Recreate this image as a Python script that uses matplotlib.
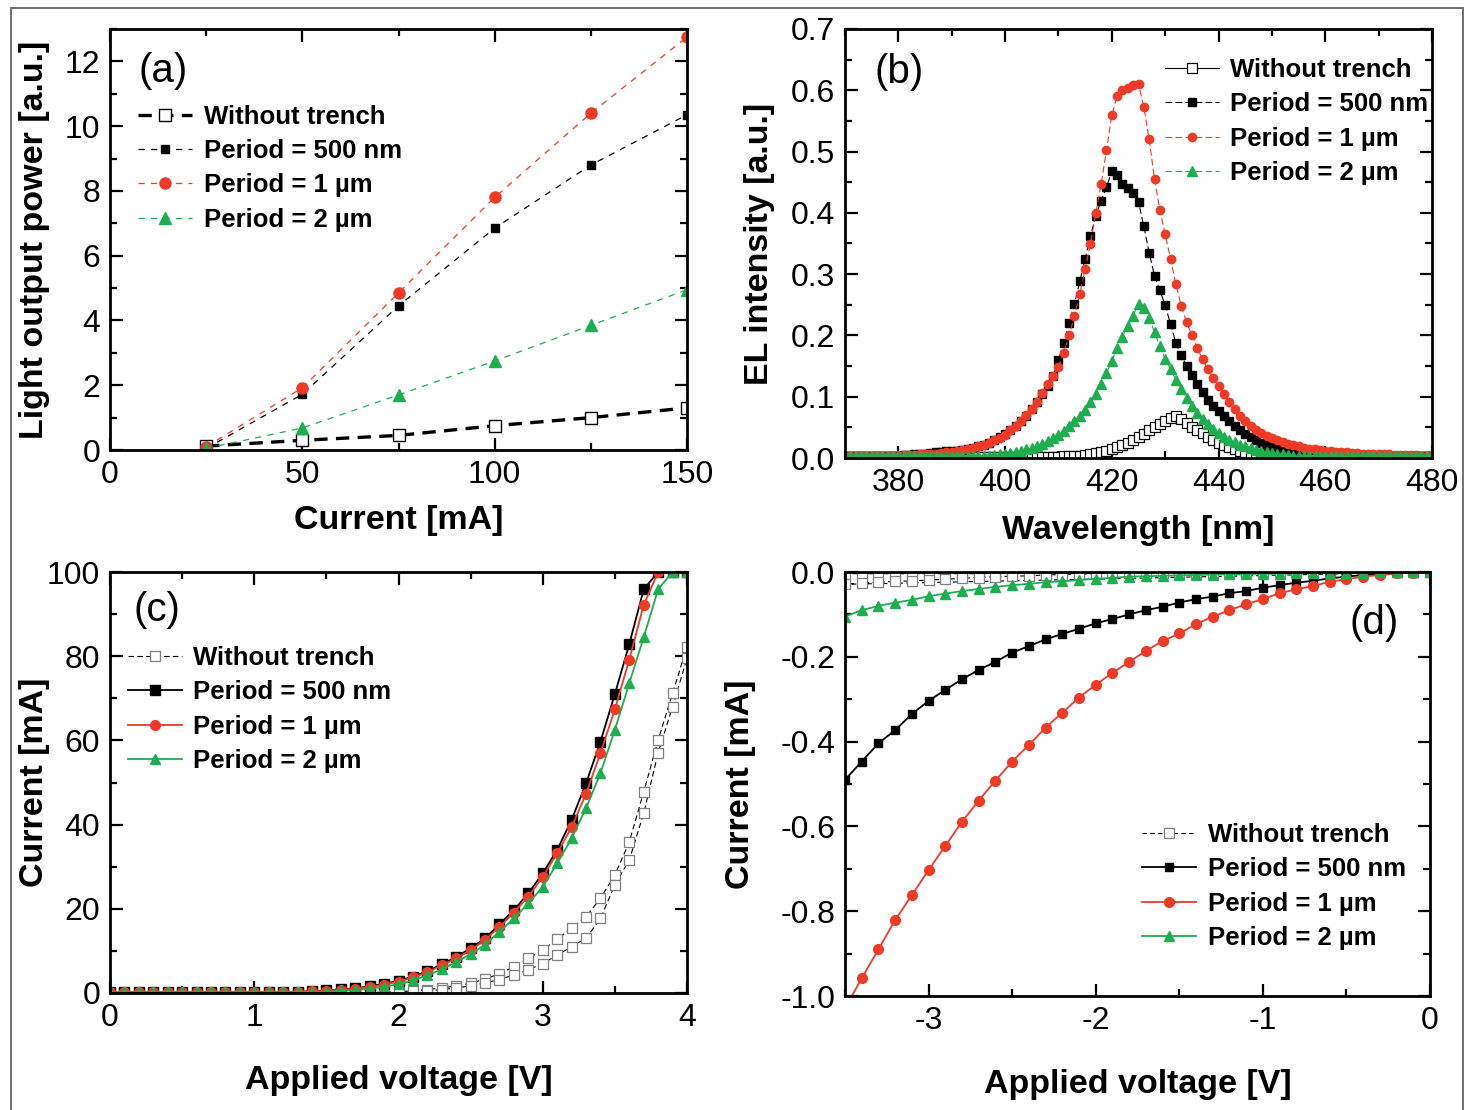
import numpy as np
import matplotlib.pyplot as plt
from matplotlib.patches import Rectangle
from matplotlib.ticker import MultipleLocator

plt.rcParams['font.family'] = ['Liberation Sans Narrow', 'Liberation Sans', 'DejaVu Sans']
plt.rcParams['axes.unicode_minus'] = False

RED = '#ee3a26'
GREEN = '#1fae4f'
GREY = '#7f7f7f'

# ---- (a) light output power vs current
current_a = [25, 50, 75, 100, 125, 150]
pow_wt = [0.12, 0.30, 0.45, 0.75, 1.00, 1.30]
pow_500 = [0.05, 1.72, 4.45, 6.85, 8.80, 10.35]
pow_1um = [0.10, 1.92, 4.85, 7.80, 10.40, 12.75]
pow_2um = [0.05, 0.68, 1.70, 2.75, 3.85, 4.95]

# ---- (b) EL spectra, one point per nm from 370 to 480
wl = np.arange(370, 481)
el_wt = [0.001] * 10 + [0.001] * 10 + [0.001] * 10 + \
    [0.001, 0.001, 0.001, 0.001, 0.001, 0.001, 0.001, 0.002, 0.002, 0.002,
     0.002, 0.003, 0.003, 0.004, 0.004, 0.005, 0.006, 0.008, 0.010, 0.012,
     0.015, 0.018, 0.022, 0.025, 0.029, 0.034, 0.039, 0.045, 0.050, 0.055,
     0.060, 0.066, 0.069, 0.063, 0.057, 0.051, 0.045, 0.040, 0.034, 0.029,
     0.025, 0.021, 0.018, 0.014, 0.011, 0.009, 0.007, 0.006, 0.005, 0.004,
     0.003, 0.003, 0.002, 0.002, 0.001, 0.001, 0.001, 0.001, 0.001, 0.001] + \
    [0.001] * 10 + [0.001] * 11
el_500 = [0.004] * 10 + \
    [0.004, 0.005, 0.005, 0.006, 0.006, 0.007, 0.008, 0.009, 0.010, 0.011,
     0.011, 0.012, 0.013, 0.015, 0.017, 0.019, 0.022, 0.025, 0.029, 0.034,
     0.039, 0.045, 0.052, 0.060, 0.069, 0.080, 0.092, 0.104, 0.117, 0.134,
     0.160, 0.188, 0.220, 0.252, 0.288, 0.325, 0.362, 0.395, 0.420, 0.442,
     0.468, 0.462, 0.447, 0.440, 0.432, 0.418, 0.378, 0.335, 0.297, 0.274,
     0.249, 0.219, 0.188, 0.168, 0.150, 0.136, 0.121, 0.107, 0.095, 0.085,
     0.076, 0.068, 0.060, 0.052, 0.045, 0.039, 0.034, 0.029, 0.025, 0.022,
     0.019, 0.017, 0.015, 0.013, 0.012, 0.011, 0.010, 0.009, 0.008, 0.008,
     0.007, 0.007, 0.006, 0.006, 0.006, 0.005, 0.005, 0.005, 0.005, 0.004] + \
    [0.004] * 11
el_1um = [0.004] * 10 + \
    [0.004, 0.005, 0.005, 0.005, 0.006, 0.006, 0.007, 0.007, 0.008, 0.009,
     0.010, 0.011, 0.013, 0.015, 0.017, 0.019, 0.022, 0.025, 0.029, 0.033,
     0.038, 0.045, 0.052, 0.060, 0.070, 0.080, 0.092, 0.106, 0.121, 0.134,
     0.148, 0.172, 0.200, 0.232, 0.268, 0.308, 0.350, 0.399, 0.447, 0.502,
     0.560, 0.590, 0.600, 0.604, 0.609, 0.611, 0.572, 0.520, 0.455, 0.405,
     0.365, 0.325, 0.284, 0.248, 0.222, 0.200, 0.180, 0.161, 0.145, 0.130,
     0.117, 0.105, 0.092, 0.080, 0.069, 0.060, 0.052, 0.046, 0.041, 0.036,
     0.032, 0.029, 0.026, 0.023, 0.021, 0.019, 0.017, 0.015, 0.014, 0.013,
     0.012, 0.011, 0.010, 0.009, 0.009, 0.008, 0.008, 0.007, 0.007, 0.007,
     0.006, 0.006, 0.006, 0.005, 0.005, 0.005, 0.005, 0.005, 0.004, 0.004,
     0.004]
el_2um = [0.004] * 10 + [0.004] * 10 + \
    [0.004, 0.004, 0.004, 0.004, 0.004, 0.004, 0.004, 0.004, 0.005, 0.006,
     0.007, 0.008, 0.010, 0.012, 0.014, 0.016, 0.019, 0.023, 0.027, 0.032,
     0.038, 0.044, 0.052, 0.060, 0.069, 0.079, 0.091, 0.104, 0.120, 0.138,
     0.158, 0.180, 0.198, 0.215, 0.232, 0.252, 0.245, 0.228, 0.205, 0.182,
     0.162, 0.145, 0.128, 0.112, 0.098, 0.085, 0.074, 0.064, 0.055, 0.048,
     0.041, 0.035, 0.030, 0.026, 0.022, 0.019, 0.016, 0.013, 0.011, 0.009,
     0.008, 0.007, 0.006, 0.005, 0.004, 0.004, 0.004, 0.004, 0.004, 0.004] + \
    [0.004] * 10 + [0.004] * 11

# ---- (c) forward I-V, 0.1 V steps from 0 to 4 V
v_fwd = np.round(np.arange(0, 4.01, 0.1), 1)
iv_500 = [0.2, 0.2, 0.2, 0.2, 0.2, 0.2, 0.2, 0.2, 0.2, 0.2,
          0.2, 0.2, 0.3, 0.3, 0.4, 0.6, 0.9, 1.1, 1.6, 2.2,
          2.9, 3.9, 5.2, 6.8, 8.6, 10.6, 13.0, 16.3, 19.7, 23.7,
          28.4, 34.0, 41.1, 49.8, 59.7, 71.0, 82.9, 95.9, 100, 100, 100]
iv_1um = [0.2, 0.2, 0.2, 0.2, 0.2, 0.2, 0.2, 0.2, 0.2, 0.2,
          0.2, 0.2, 0.2, 0.3, 0.4, 0.5, 0.8, 1.0, 1.4, 2.0,
          2.7, 3.7, 4.9, 6.6, 8.2, 10.2, 12.6, 15.7, 19.1, 22.9,
          27.6, 33.2, 39.4, 47.3, 57.0, 67.4, 79.2, 92.2, 100, 100, 100]
iv_2um = [0.2, 0.2, 0.2, 0.2, 0.2, 0.2, 0.2, 0.2, 0.2, 0.2,
          0.2, 0.2, 0.2, 0.2, 0.2, 0.3, 0.5, 0.7, 1.0, 1.5,
          2.1, 3.0, 4.2, 5.6, 7.4, 9.2, 11.5, 14.6, 17.7, 21.3,
          25.2, 30.8, 36.7, 43.9, 52.2, 62.5, 73.6, 84.5, 95.9, 100, 100]
iv_wt_up = [0.1, 0.1, 0.1, 0.1, 0.1, 0.1, 0.1, 0.1, 0.1, 0.1,
            0.1, 0.1, 0.1, 0.1, 0.1, 0.1, 0.1, 0.1, 0.1, 0.2,
            0.3, 0.5, 0.8, 1.2, 1.7, 2.3, 3.3, 4.6, 6.2, 8.2,
            10.2, 12.8, 15.4, 18.1, 22.5, 28.0, 35.9, 47.8, 60.1, 71.2, 82.3]
v_wt_back = [4.0, 3.9, 3.8, 3.7, 3.6, 3.5, 3.4, 3.3, 3.2, 3.1,
             3.0, 2.9, 2.8, 2.7, 2.6, 2.5, 2.4, 2.3, 2.2]
iv_wt_back = [79.5, 68.0, 57.1, 42.7, 31.6, 25.7, 17.7, 13.0, 11.0, 9.0,
              7.0, 5.5, 4.3, 3.2, 2.4, 1.7, 1.2, 0.8, 0.5]

# ---- (d) reverse I-V, 0.1 V steps from -3.5 to 0 V
v_rev = np.round(np.arange(-3.5, 0.01, 0.1), 1)
rv_500 = [-0.490, -0.447, -0.404, -0.373, -0.335, -0.304, -0.278, -0.253, -0.231,
          -0.212, -0.190, -0.175, -0.159, -0.146, -0.134, -0.121, -0.111, -0.100,
          -0.090, -0.082, -0.072, -0.064, -0.058, -0.050, -0.045, -0.037, -0.031,
          -0.025, -0.021, -0.015, -0.011, -0.007, -0.005, -0.003, -0.002, 0.0]
rv_1um = [-1.030, -0.958, -0.890, -0.821, -0.762, -0.703, -0.646, -0.589, -0.539,
          -0.492, -0.447, -0.408, -0.367, -0.332, -0.296, -0.266, -0.238, -0.212,
          -0.186, -0.163, -0.145, -0.123, -0.105, -0.090, -0.076, -0.064, -0.050,
          -0.041, -0.033, -0.023, -0.017, -0.011, -0.007, -0.003, -0.002, 0.0]
rv_2um = [-0.105, -0.090, -0.080, -0.072, -0.066, -0.057, -0.051, -0.045, -0.040,
          -0.035, -0.031, -0.028, -0.024, -0.022, -0.019, -0.016, -0.014, -0.011,
          -0.010, -0.009, -0.008, -0.007, -0.006, -0.005, -0.005, -0.004, -0.004,
          -0.003, -0.003, -0.002, -0.002, -0.002, -0.001, -0.001, -0.001, 0.0]
rv_wt_up = [-0.004, -0.004, -0.004, -0.004, -0.004, -0.004, -0.004, -0.004, -0.004,
            -0.003, -0.003, -0.003, -0.003, -0.003, -0.003, -0.003, -0.002, -0.002,
            -0.002, -0.002, -0.002, -0.002, -0.002, -0.001, -0.001, -0.001, -0.001,
            -0.001, -0.001, -0.001, -0.001, -0.001, 0.0, 0.0, 0.0, 0.0]
v_wt_rev2 = [-3.5, -3.4, -3.3, -3.2, -3.1, -3.0, -2.9, -2.8, -2.7, -2.6,
             -2.5, -2.4, -2.3, -2.2, -2.1, -2.0]
rv_wt_2 = [-0.029, -0.026, -0.024, -0.022, -0.021, -0.019, -0.017, -0.015, -0.013,
           -0.011, -0.010, -0.009, -0.007, -0.006, -0.005, -0.004]

labels = ['Without trench', 'Period = 500 nm', 'Period = 1 \u00b5m', 'Period = 2 \u00b5m']

fig = plt.figure(figsize=(14.74, 11.10), dpi=100)
W, H = 1474, 1110


def box(l, t, r, b):
    return [l / W, 1 - b / H, (r - l) / W, (b - t) / H]


def style(ax):
    for s in ax.spines.values():
        s.set_linewidth(2.0)
    ax.tick_params(which='both', direction='in', top=True, right=True, width=1.6)
    ax.tick_params(which='major', length=9, labelsize=23, pad=7)
    ax.tick_params(which='minor', length=5)
    for t in ax.get_xticklabels() + ax.get_yticklabels():
        t.set_family(['Liberation Sans', 'DejaVu Sans'])


def labels_at(ax, xl, yl, xy, yx):
    ax.set_xlabel(xl, fontsize=24.5, fontweight='bold', va='center')
    ax.set_ylabel(yl, fontsize=24.5, fontweight='bold', va='center')
    ax.xaxis.set_label_coords(0.5, xy)
    ax.yaxis.set_label_coords(yx, 0.5)


def legend(ax, x, y):
    return ax.legend(loc='upper left', bbox_to_anchor=(x, y), frameon=False,
                     prop={'weight': 'bold', 'size': 18.5}, handlelength=2.1,
                     handletextpad=0.45, labelspacing=0.4, borderpad=0, borderaxespad=0)


# ---------- (a)
ax = fig.add_axes(box(110, 29, 687, 450))
ax.plot(current_a, pow_wt, color='k', ls=(0, (4, 2.5)), lw=2.4, marker='s', ms=9,
        mfc='white', mec='k', mew=1.0, label=labels[0])
ax.plot(current_a, pow_500, color='k', ls=(0, (5, 5)), lw=0.9, marker='s', ms=6,
        mfc='k', mec='k', label=labels[1])
ax.plot(current_a, pow_1um, color=RED, ls=(0, (5, 5)), lw=0.9, marker='o', ms=8,
        mfc=RED, mec=RED, label=labels[2])
ax.plot(current_a, pow_2um, color=GREEN, ls=(0, (5, 5)), lw=0.9, marker='^', ms=9,
        mfc=GREEN, mec=GREEN, label=labels[3])
ax.set_xlim(0, 150)
ax.set_ylim(0, 13)
ax.xaxis.set_major_locator(MultipleLocator(50))
ax.xaxis.set_minor_locator(MultipleLocator(25))
ax.yaxis.set_major_locator(MultipleLocator(2))
ax.yaxis.set_minor_locator(MultipleLocator(1))
style(ax)
labels_at(ax, 'Current [mA]', 'Light output power [a.u.]', -0.167, -0.130)
ax.text(0.05, 0.9, '(a)', transform=ax.transAxes, fontsize=29, family='Liberation Sans',
        va='center')
legend(ax, 0.049, 0.82)

# ---------- (b)
ax = fig.add_axes(box(845, 29, 1432, 458))
ax.plot(wl, el_wt, color='k', lw=0.8, marker='s', ms=7, mfc='white', mec='k',
        mew=0.9, label=labels[0])
ax.plot(wl, el_500, color='k', lw=0.8, ls=(0, (6, 3)), marker='s', ms=5.5, mfc='k',
        mec='k', label=labels[1])
ax.plot(wl, el_1um, color=RED, lw=0.8, ls=(0, (6, 3)), marker='o', ms=6, mfc=RED,
        mec=RED, label=labels[2])
ax.plot(wl, el_2um, color=GREEN, lw=0.8, ls=(0, (6, 3)), marker='^', ms=6.5, mfc=GREEN,
        mec=GREEN, label=labels[3])
ax.set_xlim(370, 480)
ax.set_ylim(0, 0.7)
ax.xaxis.set_major_locator(MultipleLocator(20))
ax.xaxis.set_minor_locator(MultipleLocator(10))
ax.yaxis.set_major_locator(MultipleLocator(0.1))
ax.yaxis.set_minor_locator(MultipleLocator(0.05))
style(ax)
labels_at(ax, 'Wavelength [nm]', 'EL intensity [a.u.]', -0.168, -0.145)
ax.text(0.05, 0.9, '(b)', transform=ax.transAxes, fontsize=29, family='Liberation Sans',
        va='center')
legend(ax, 0.545, 0.932)

# ---------- (c)
ax = fig.add_axes(box(110, 572, 687, 993))
ax.plot(list(v_fwd) + v_wt_back, iv_wt_up + iv_wt_back, color='k', lw=0.8,
        ls=(0, (5, 3)), marker='s', ms=7, mfc='white', mec=GREY, mew=0.9, label=labels[0])
ax.plot(v_fwd, iv_500, color='k', lw=1.3, marker='s', ms=6.5, mfc='k', mec='k',
        label=labels[1])
ax.plot(v_fwd, iv_1um, color=RED, lw=1.3, marker='o', ms=7, mfc=RED, mec=RED,
        label=labels[2])
ax.plot(v_fwd, iv_2um, color=GREEN, lw=1.3, marker='^', ms=7.5, mfc=GREEN, mec=GREEN,
        label=labels[3])
ax.set_xlim(0, 4)
ax.set_ylim(0, 100)
ax.xaxis.set_major_locator(MultipleLocator(1))
ax.xaxis.set_minor_locator(MultipleLocator(0.5))
ax.yaxis.set_major_locator(MultipleLocator(20))
ax.yaxis.set_minor_locator(MultipleLocator(10))
style(ax)
labels_at(ax, 'Applied voltage [V]', 'Current [mA]', -0.207, -0.130)
ax.text(0.04, 0.91, '(c)', transform=ax.transAxes, fontsize=29, family='Liberation Sans',
        va='center')
legend(ax, 0.031, 0.824)

# ---------- (d)
ax = fig.add_axes(box(845, 572, 1430, 996))
ax.plot(list(v_rev) + v_wt_rev2, rv_wt_up + rv_wt_2, color='k', lw=0.8,
        ls=(0, (4, 3)), marker='s', ms=7, mfc='white', mec=GREY, mew=0.9, label=labels[0])
ax.plot(v_rev, rv_500, color='k', lw=1.3, marker='s', ms=6, mfc='k', mec='k',
        label=labels[1])
ax.plot(v_rev, rv_1um, color=RED, lw=1.3, marker='o', ms=7, mfc=RED, mec=RED,
        label=labels[2])
ax.plot(v_rev, rv_2um, color=GREEN, lw=1.3, marker='^', ms=7.5, mfc=GREEN, mec=GREEN,
        label=labels[3])
ax.set_xlim(-3.5, 0)
ax.set_ylim(-1.0, 0.0)
ax.xaxis.set_major_locator(MultipleLocator(1))
ax.xaxis.set_minor_locator(MultipleLocator(0.5))
ax.yaxis.set_major_locator(MultipleLocator(0.2))
ax.yaxis.set_minor_locator(MultipleLocator(0.1))
style(ax)
labels_at(ax, 'Applied voltage [V]', 'Current [mA]', -0.208, -0.179)
ax.text(0.905, 0.88, '(d)', transform=ax.transAxes, fontsize=29, family='Liberation Sans',
        va='center', ha='center')
legend(ax, 0.508, 0.408)

# thin frame around the whole figure
fig.patches.append(Rectangle((11 / W, -0.02), (1463 - 11) / W, 1 - 8 / H + 0.02,
                             transform=fig.transFigure, fill=False, ec='#707070', lw=1.4))

fig.savefig('out.png', dpi=100)
